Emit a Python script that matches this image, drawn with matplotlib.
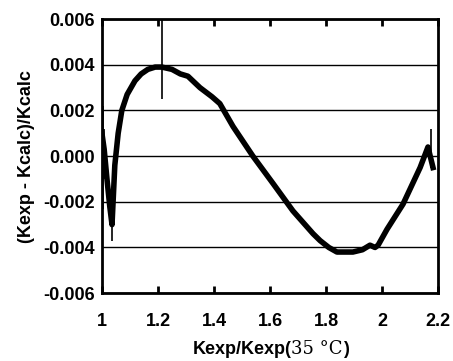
import numpy as np
import matplotlib.pyplot as plt

plt.rcParams['font.family'] = ['Liberation Sans', 'DejaVu Sans']

# centre line of the residual band
ratio = [1.000, 1.008, 1.018, 1.028, 1.036, 1.046, 1.058, 1.071, 1.090, 1.118,
         1.140, 1.164, 1.190, 1.214, 1.250, 1.280, 1.307, 1.350, 1.393, 1.421,
         1.468, 1.539, 1.611, 1.682, 1.754, 1.779, 1.810, 1.839, 1.870, 1.896,
         1.930, 1.957, 1.975, 1.986, 2.018, 2.075, 2.136, 2.164, 2.172, 2.182]
resid = [0.0010, 0.0003, -0.0010, -0.0022, -0.0030, -0.0004, 0.0010, 0.0020, 0.0027, 0.0033,
         0.0036, 0.0038, 0.0039, 0.0039, 0.0038, 0.0036, 0.0035, 0.0030, 0.0026, 0.0023,
         0.0013, 0.0000, -0.0012, -0.0024, -0.0034, -0.0037, -0.0040, -0.0042, -0.0042, -0.0042,
         -0.0041, -0.0039, -0.0040, -0.0039, -0.0032, -0.0021, -0.0005, 0.0004, 0.0000, -0.0005]

# single-point spikes (x, low, high)
spike_x = [1.003, 1.008, 1.036, 1.214, 2.176]
spike_lo = [-0.0023, -0.0010, -0.0037, 0.0025, -0.0005]
spike_hi = [0.0022, 0.0012, -0.0020, 0.0060, 0.0012]

fig = plt.figure(figsize=(4.53, 3.61), dpi=100)
ax = fig.add_axes([0.225, 0.188, 0.742, 0.759])

ax.plot(ratio, resid, color='black', lw=4, solid_joinstyle='round')
ax.vlines(spike_x, spike_lo, spike_hi, color='black', lw=1.2)

ax.set_xlim(1, 2.2)
ax.set_ylim(-0.006, 0.006)
ax.set_xticks(np.arange(1.0, 2.21, 0.2))
ax.set_xticklabels(['1', '1.2', '1.4', '1.6', '1.8', '2', '2.2'])
ax.set_yticks(np.arange(-0.006, 0.0061, 0.002))
ax.set_yticklabels(['-0.006', '-0.004', '-0.002', '0.000', '0.002', '0.004', '0.006'])
ax.grid(axis='y', color='black', lw=1)
ax.tick_params(axis='x', direction='in', length=5, width=2, top=True, pad=14,
               labelsize=13)
ax.tick_params(axis='y', length=0, pad=5, labelsize=13)
for lab in ax.get_xticklabels() + ax.get_yticklabels():
    lab.set_fontweight('bold')
for s in ax.spines.values():
    s.set_linewidth(2)

ax.set_ylabel('(Kexp - Kcalc)/Kcalc', fontsize=13, fontweight='bold', labelpad=6)

t1 = fig.text(0.425, 0.02, 'Kexp/Kexp(', fontsize=13, fontweight='bold', va='baseline')
t2 = ax.annotate('35 \u00b0C', xy=(1, 0), xycoords=t1, va='bottom', fontsize=13,
                 family='DejaVu Serif')
ax.annotate(')', xy=(1, 0), xycoords=t2, va='bottom', fontsize=13, fontweight='bold')

fig.savefig('out.png', dpi=100)
